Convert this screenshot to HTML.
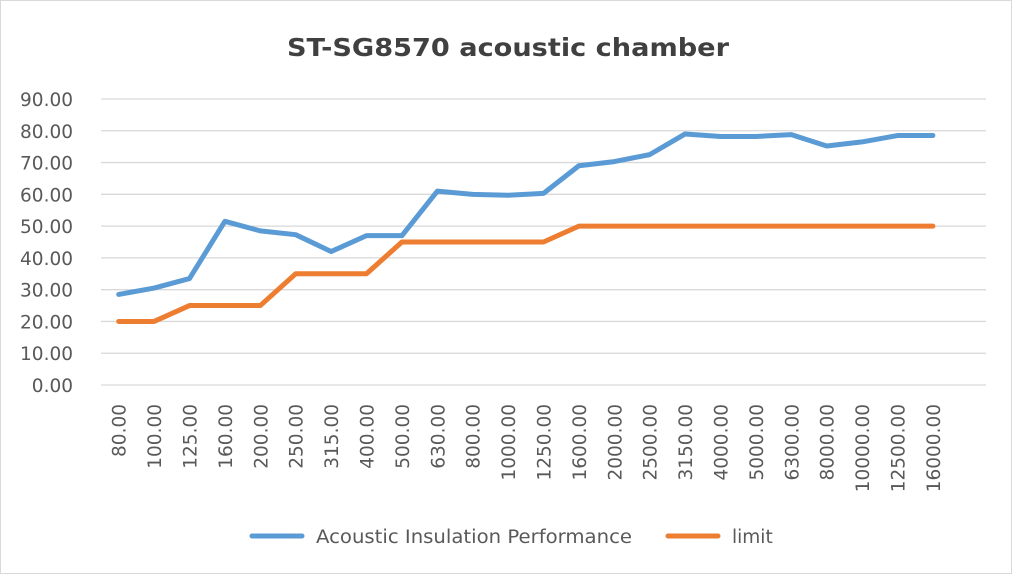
<!DOCTYPE html>
<html><head><meta charset="utf-8"><style>
body{margin:0;background:#fff;}
svg{display:block;font-family:"DejaVu Sans","Liberation Sans",sans-serif;}
</style></head><body>
<svg id="c" width="1012" height="574">
<rect x="0.5" y="0.5" width="1011" height="573" fill="#fff" stroke="#d9d9d9"/>
<text x="508" y="56" text-anchor="middle" font-size="25" font-weight="bold" fill="#404040" textLength="442" lengthAdjust="spacingAndGlyphs">ST-SG8570 acoustic chamber</text>
<g id="grid"></g><g id="ylab"></g><g id="xlab"></g><g id="lines"></g>
<g>
<line x1="252" y1="536" x2="302" y2="536" stroke="#5b9bd5" stroke-width="5" stroke-linecap="round"/>
<text x="316" y="543" font-size="18.5" fill="#595959" textLength="316" lengthAdjust="spacingAndGlyphs">Acoustic Insulation Performance</text>
<line x1="668" y1="536" x2="718" y2="536" stroke="#ed7d31" stroke-width="5" stroke-linecap="round"/>
<text x="732" y="543" font-size="18.5" fill="#595959">limit</text>
</g>
</svg>
<script>
const categories=["80.00","100.00","125.00","160.00","200.00","250.00","315.00","400.00","500.00","630.00","800.00","1000.00","1250.00","1600.00","2000.00","2500.00","3150.00","4000.00","5000.00","6300.00","8000.00","10000.00","12500.00","16000.00"];
const acoustic=[28.5,30.5,33.5,51.5,48.5,47.3,42,47,47,61,60,59.7,60.3,69,70.3,72.5,79,78.2,78.2,78.8,75.2,76.5,78.5,78.5];
const limit=[20,20,25,25,25,35,35,35,45,45,45,45,45,50,50,50,50,50,50,50,50,50,50,50];
const yTicks=[0,10,20,30,40,50,60,70,80,90];
const NS="http://www.w3.org/2000/svg";
const left=101,step=35.4,slots=25,right=left+step*slots;
const y0=385,y90=99;
function x(i){return left+step*(i+0.5);}
function y(v){return y0-(v/90)*(y0-y90);}
function mk(t,a,p){const e=document.createElementNS(NS,t);for(const k in a)e.setAttribute(k,a[k]);p.appendChild(e);return e;}
const g=document.getElementById('grid'),yl=document.getElementById('ylab'),xl=document.getElementById('xlab'),ln=document.getElementById('lines');
yTicks.forEach(v=>{
 const l=mk('line',{x1:left,x2:right,y1:y(v),y2:y(v),stroke:'#d9d9d9','stroke-width':1.3},g);
 
 
 const t=mk('text',{x:73,y:y(v)+7,'text-anchor':'end','font-size':18.5,fill:'#595959'},yl);
 t.textContent=v.toFixed(2);
 
 
});
categories.forEach((c,i)=>{
 const t=mk('text',{x:0,y:0,'text-anchor':'end','font-size':18.5,fill:'#595959',transform:`translate(${x(i)+7},404) rotate(-90)`},xl);
 t.textContent=c;
 
 
});
function series(d,color,name){
 const p=mk('polyline',{points:d.map((v,i)=>x(i)+','+y(v)).join(' '),fill:'none',stroke:color,'stroke-width':5,'stroke-linejoin':'round','stroke-linecap':'round'},ln);
 
 
}
series(limit,'#ed7d31','limit-line');
series(acoustic,'#5b9bd5','acoustic-line');
</script>
</body></html>
